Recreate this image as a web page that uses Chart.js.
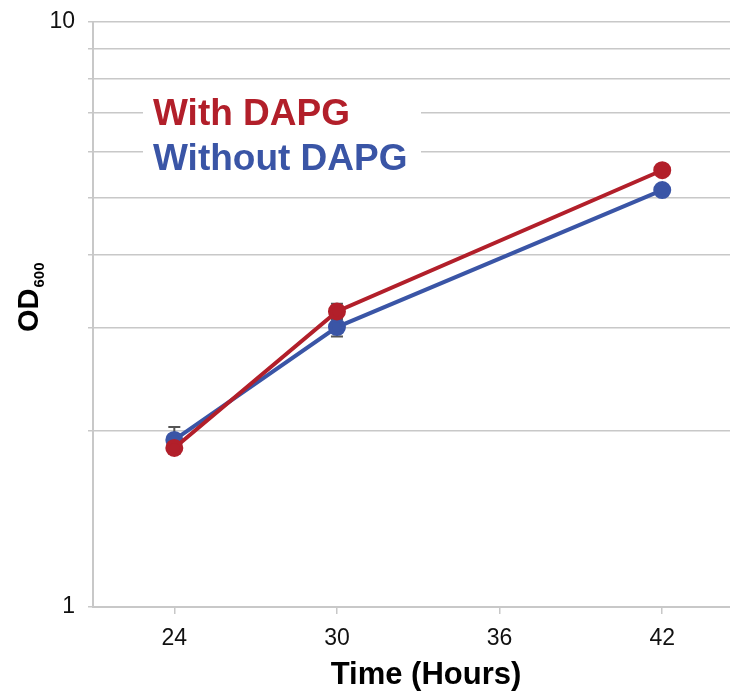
<!DOCTYPE html>
<html>
<head>
<meta charset="utf-8">
<script src="https://cdn.jsdelivr.net/npm/chart.js@4"></script>
<style>
  html, body { margin: 0; padding: 0; background: #fff; overflow: hidden; }
  #wrap { width: 730px; height: 691px; }
  canvas { display: block; }
</style>
</head>
<body>
<div id="wrap"><canvas id="odChart" width="730" height="691"></canvas></div>
<script>
// data
const hours = [24, 30, 42];
const xTicks = [24, 30, 36, 42];
const yGrid = [1, 2, 3, 4, 5, 6, 7, 8, 9, 10];
const yLabels = [1, 10];
const withDapg = [1.87, 3.20, 5.58];
const withDapgErr = [0.04, 0.10, 0.05];
const withoutDapg = [1.93, 3.01, 5.16];
const withoutDapgErr = [0.10, 0.11, 0.05];

const RED = '#b21f2a';
const BLUE = '#3a55a6';
const GRID = '#c8c8c8';
const FONT = '"Liberation Sans", Arial, sans-serif';

function toPoints(xs, ys, errs) {
    return xs.map((x, i) => ({ x: x, y: ys[i], err: errs[i] }));
}

// error bars, drawn under the lines
const errorBars = {
    id: 'errorBars',
    beforeDatasetsDraw(chart) {
        const ctx = chart.ctx;
        const yScale = chart.scales.y;
        ctx.save();
        ctx.strokeStyle = '#555';
        ctx.lineWidth = 2;
        chart.data.datasets.forEach((ds, di) => {
            const meta = chart.getDatasetMeta(di);
            ds.data.forEach((p, i) => {
                const px = meta.data[i].x;
                const top = yScale.getPixelForValue(p.y + p.err);
                const bot = yScale.getPixelForValue(p.y - p.err);
                ctx.beginPath();
                ctx.moveTo(px, top); ctx.lineTo(px, bot);
                ctx.moveTo(px - 6, top); ctx.lineTo(px + 6, top);
                ctx.moveTo(px - 6, bot); ctx.lineTo(px + 6, bot);
                ctx.stroke();
            });
        });
        ctx.restore();
    }
};

// legend text over a white box, plus both axis titles
const labels = {
    id: 'labels',
    afterDraw(chart) {
        const ctx = chart.ctx;
        ctx.save();
        ctx.fillStyle = '#fff';
        ctx.fillRect(143, 92, 278, 86);
        ctx.font = 'bold 37px ' + FONT;
        ctx.textBaseline = 'alphabetic';
        ctx.textAlign = 'left';
        chart.data.datasets.forEach((ds, i) => {
            ctx.fillStyle = ds.borderColor;
            ctx.fillText(ds.label, 153, 125 + i * 45);
        });

        // x title, sits a bit right of the plot centre in the original
        ctx.fillStyle = '#000';
        ctx.textAlign = 'center';
        ctx.font = 'bold 31px ' + FONT;
        ctx.fillText('Time (Hours)', 426, 684);

        ctx.textAlign = 'left';
        ctx.translate(38, 332);
        ctx.rotate(-Math.PI / 2);
        ctx.font = 'bold 29px ' + FONT;
        ctx.fillText('OD', 0, 0);
        const w = ctx.measureText('OD').width;
        ctx.font = 'bold 15px ' + FONT;
        ctx.fillText('600', w + 1, 6);
        ctx.restore();
    }
};

new Chart(document.getElementById('odChart'), {
    type: 'line',
    data: {
        datasets: [
            {
                label: 'With DAPG',
                data: toPoints(hours, withDapg, withDapgErr),
                borderColor: RED,
                backgroundColor: RED,
                borderWidth: 4,
                pointRadius: 7,
                pointHoverRadius: 7,
                tension: 0
            },
            {
                label: 'Without DAPG',
                data: toPoints(hours, withoutDapg, withoutDapgErr),
                borderColor: BLUE,
                backgroundColor: BLUE,
                borderWidth: 4,
                pointRadius: 7,
                pointHoverRadius: 7,
                tension: 0,
                order: 1
            }
        ]
    },
    options: {
        responsive: false,
        animation: false,
        layout: { autoPadding: false, padding: { top: 22, right: 0, left: 0, bottom: 0 } },
        plugins: { legend: { display: false }, tooltip: { enabled: false } },
        scales: {
            x: {
                type: 'linear',
                min: 21,
                max: 44.5,
                afterBuildTicks: s => { s.ticks = xTicks.map(v => ({ value: v })); },
                afterFit: s => { s.height = 84; s.paddingLeft = 0; s.paddingRight = 0; },
                border: { color: GRID, width: 2 },
                grid: { drawOnChartArea: false, drawTicks: true, tickLength: 7, color: GRID, lineWidth: 1.5 },
                ticks: { color: '#111', font: { family: FONT, size: 23 }, padding: 11 }
            },
            y: {
                type: 'logarithmic',
                min: 1,
                max: 10,
                afterBuildTicks: s => { s.ticks = yGrid.map(v => ({ value: v })); },
                afterFit: s => { s.width = 93; s.paddingTop = 0; s.paddingBottom = 0; },
                border: { color: GRID, width: 2 },
                grid: { color: GRID, lineWidth: 1.5, tickLength: 5 },
                ticks: {
                    color: '#111',
                    font: { family: FONT, size: 23 },
                    padding: 13,
                    autoSkip: false,
                    callback: v => yLabels.includes(v) ? String(v) : ''
                }
            }
        }
    },
    plugins: [errorBars, labels]
});
</script>
</body>
</html>
